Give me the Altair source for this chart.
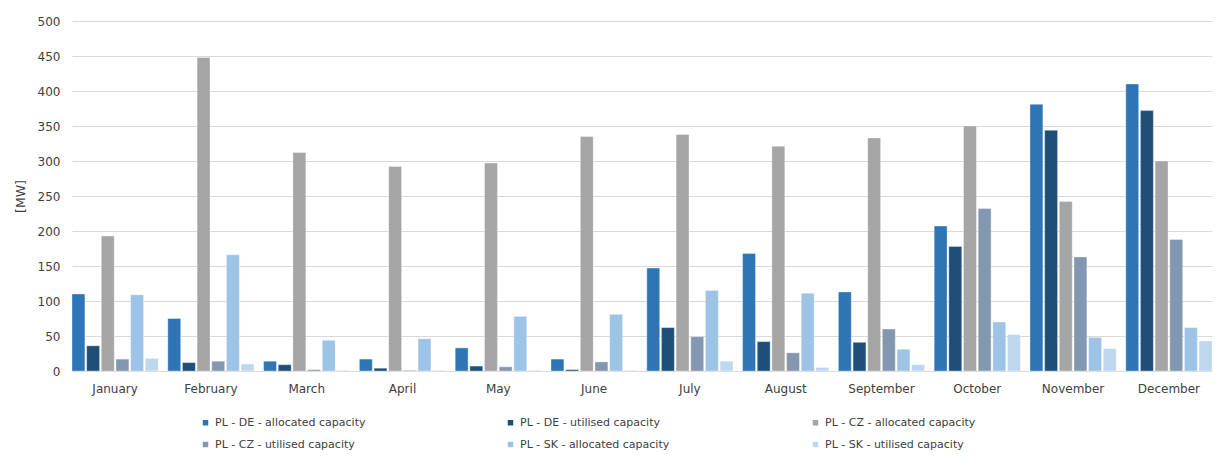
import altair as alt
import pandas as pd

months = ["January", "February", "March", "April", "May", "June", "July",
          "August", "September", "October", "November", "December"]
series = ["PL - DE - allocated capacity", "PL - DE - utilised capacity",
          "PL - CZ - allocated capacity", "PL - CZ - utilised capacity",
          "PL - SK - allocated capacity", "PL - SK - utilised capacity"]
colors = ["#2E75B6", "#1F4E79", "#A5A5A5", "#8497B0", "#9DC3E6", "#BDD7EE"]

de_alloc = [110, 75, 14, 17, 33, 17, 147, 168, 113, 207, 381, 410]
de_util = [36, 12, 9, 4, 7, 2, 62, 42, 41, 178, 344, 372]
cz_alloc = [193, 448, 312, 292, 297, 335, 338, 321, 333, 350, 242, 300]
cz_util = [17, 14, 2, 1, 6, 13, 49, 26, 60, 232, 163, 188]
sk_alloc = [109, 166, 44, 46, 78, 81, 115, 111, 31, 70, 48, 62]
sk_util = [18, 10, 1, 1, 1, 1, 14, 5, 9, 52, 32, 43]

values = [de_alloc, de_util, cz_alloc, cz_util, sk_alloc, sk_util]
rows = []
for s, vals in zip(series, values):
    for m, v in zip(months, vals):
        rows.append({"month": m, "series": s, "value": v})
df = pd.DataFrame(rows)

FONT = "DejaVu Sans"

chart = alt.Chart(df).mark_bar(strokeWidth=1, strokeOpacity=0.35, stroke="white").encode(
    x=alt.X("month:N", sort=months, title=None,
            scale=alt.Scale(paddingInner=0.1, paddingOuter=0.0),
            axis=alt.Axis(labelAngle=0, ticks=False, domainColor="#D9D9D9",
                          labelColor="#404040", labelFontSize=12, labelPadding=12,
                          labelFont=FONT)),
    xOffset=alt.XOffset("series:N", sort=series, scale=alt.Scale(paddingInner=0.12)),
    y=alt.Y("value:Q", title="[MW]",
            scale=alt.Scale(domain=[0, 500], nice=False),
            axis=alt.Axis(values=list(range(0, 501, 50)), grid=True, gridColor="#D9D9D9",
                          domain=False, ticks=False, labelColor="#404040",
                          labelFontSize=12, labelPadding=12, labelFont=FONT,
                          titleFont=FONT, titleFontSize=12.5, titleFontWeight="normal",
                          titleColor="#404040", titlePadding=10)),
    color=alt.Color("series:N", sort=series,
                    scale=alt.Scale(domain=series, range=colors),
                    legend=alt.Legend(title=None, orient="none", legendX=128, legendY=396,
                                      direction="horizontal",
                                      columns=3, columnPadding=139, rowPadding=10,
                                      gridAlign="all", symbolType="square", symbolSize=30,
                                      symbolStrokeWidth=0, labelFontSize=11, labelFont=FONT,
                                      labelColor="#404040", labelOffset=4, padding=0,
                                      labelLimit=300)),
).properties(
    width=1140, height=350,
    autosize=alt.AutoSizeParams(type="none"),
    padding={"left": 64, "top": 13, "right": 8, "bottom": 80},
).configure_view(stroke=None)

chart.save("out.html", embed_options={"renderer": "svg", "actions": False})
